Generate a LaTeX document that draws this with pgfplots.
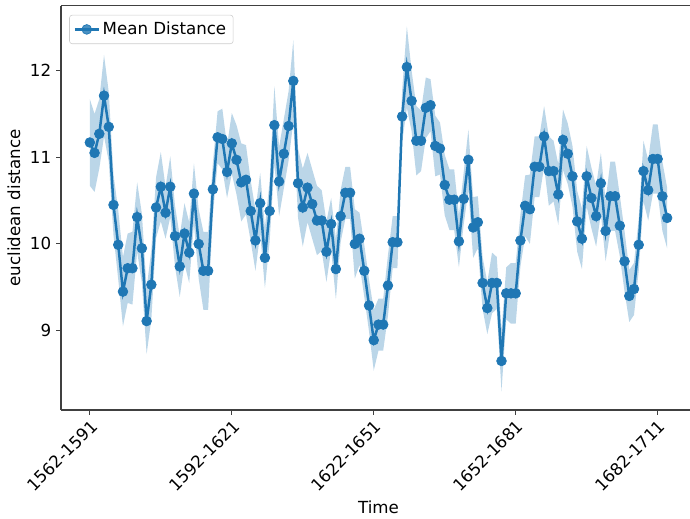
\documentclass[border=0pt]{standalone}
\usepackage{pgfplots}
\usepackage{pgfplotstable}
\pgfplotsset{compat=1.18}
\usepgfplotslibrary{fillbetween}
\usepackage{fontspec}
\setmainfont{DejaVu Sans}
\definecolor{tabblue}{HTML}{1F77B4}
\pgfplotstableread{
x m h
0 11.17 0.50
1 11.05 0.45
2 11.27 0.40
3 11.71 0.47
4 11.35 0.40
5 10.45 0.35
6 9.99 0.40
7 9.45 0.40
8 9.72 0.40
9 9.72 0.42
10 10.31 0.40
11 9.95 0.40
12 9.11 0.38
13 9.53 0.40
14 10.42 0.35
15 10.66 0.40
16 10.36 0.30
17 10.66 0.35
18 10.09 0.35
19 9.74 0.35
20 10.12 0.35
21 9.90 0.35
22 10.58 0.35
23 10.00 0.40
24 9.69 0.45
25 9.69 0.45
26 10.63 0.30
27 11.23 0.30
28 11.21 0.35
29 10.83 0.30
30 11.16 0.35
31 10.97 0.40
32 10.71 0.45
33 10.74 0.40
34 10.38 0.35
35 10.04 0.35
36 10.47 0.35
37 9.84 0.35
38 10.38 0.35
39 11.37 0.45
40 10.72 0.40
41 11.04 0.40
42 11.36 0.40
43 11.88 0.47
44 10.70 0.40
45 10.42 0.45
46 10.65 0.40
47 10.46 0.40
48 10.27 0.40
49 10.27 0.35
50 9.91 0.35
51 10.23 0.30
52 9.71 0.35
53 10.32 0.30
54 10.59 0.30
55 10.59 0.30
56 10.00 0.40
57 10.06 0.30
58 9.69 0.30
59 9.29 0.30
60 8.89 0.35
61 9.07 0.30
62 9.07 0.30
63 9.52 0.35
64 10.02 0.30
65 10.02 0.30
66 11.47 0.30
67 12.04 0.47
68 11.65 0.35
69 11.19 0.40
70 11.19 0.35
71 11.57 0.35
72 11.60 0.30
73 11.13 0.35
74 11.10 0.30
75 10.68 0.35
76 10.51 0.35
77 10.51 0.35
78 10.03 0.30
79 10.52 0.30
80 10.97 0.35
81 10.19 0.35
82 10.25 0.30
83 9.55 0.30
84 9.26 0.30
85 9.55 0.35
86 9.55 0.30
87 8.65 0.35
88 9.43 0.30
89 9.43 0.35
90 9.43 0.35
91 10.04 0.30
92 10.44 0.35
93 10.40 0.40
94 10.89 0.35
95 10.89 0.35
96 11.24 0.35
97 10.84 0.40
98 10.84 0.35
99 10.57 0.35
100 11.20 0.35
101 11.04 0.35
102 10.78 0.35
103 10.26 0.35
104 10.06 0.35
105 10.78 0.35
106 10.53 0.35
107 10.32 0.35
108 10.70 0.35
109 10.15 0.35
110 10.55 0.40
111 10.55 0.40
112 10.21 0.35
113 9.80 0.35
114 9.40 0.30
115 9.48 0.30
116 9.99 0.30
117 10.84 0.35
118 10.62 0.35
119 10.98 0.40
120 10.98 0.40
121 10.55 0.40
122 10.30 0.35
}\datatable
\begin{document}
\begin{tikzpicture}
\begin{axis}[
  at={(43.9pt,78.5pt)}, anchor=south west,
  scale only axis,
  width=457.2pt, height=290.9pt,
  xmin=-6.1, xmax=128.1,
  ymin=8.085, ymax=12.745,
  axis x line*=bottom, axis y line*=left,
  axis line style={-, line width=0.8pt, black!75},
  xtick={0,30,60,90,120},
  xticklabels={1562-1591,1592-1621,1622-1651,1652-1681,1682-1711},
  ytick={9,10,11,12},
  tick align=outside,
  major tick length=3.5pt,
  every tick/.style={black!75, line width=0.8pt},
  /pgf/number format/assume math mode=true,
  xticklabel style={rotate=45, anchor=north east, font=\fontsize{12}{14}\selectfont, inner sep=2pt},
  yticklabel style={font=\fontsize{12}{14}\selectfont},
  xlabel={Time},
  ylabel={euclidean distance},
  label style={font=\fontsize{12}{14}\selectfont},
  legend style={at={(0.013,0.978)}, anchor=north west, draw=black!20, rounded corners=2pt, fill=white, fill opacity=0.8, text opacity=1, font=\fontsize{12}{14}\selectfont, inner sep=3pt},
  legend cell align=left,
]
\addplot[name path=up, draw=none, forget plot] table[x=x, y expr=\thisrow{m}+\thisrow{h}] {\datatable};
\addplot[name path=lo, draw=none, forget plot] table[x=x, y expr=\thisrow{m}-\thisrow{h}] {\datatable};
\addplot[fill=tabblue, fill opacity=0.3, draw=none, forget plot] fill between[of=up and lo];
\addplot[color=tabblue, line width=1.8pt, mark=*, mark size=3.5pt, mark options={fill=tabblue, draw=tabblue, line width=0.5pt}] table[x=x, y=m] {\datatable};
\addlegendentry{Mean Distance}
\draw[line width=0.8pt, black!75] (rel axis cs:0,1) -- (rel axis cs:1,1);
\end{axis}
\pgfresetboundingbox
\path[use as bounding box] (0,0) rectangle (496.8pt,373.68pt);
\end{tikzpicture}
\end{document}
